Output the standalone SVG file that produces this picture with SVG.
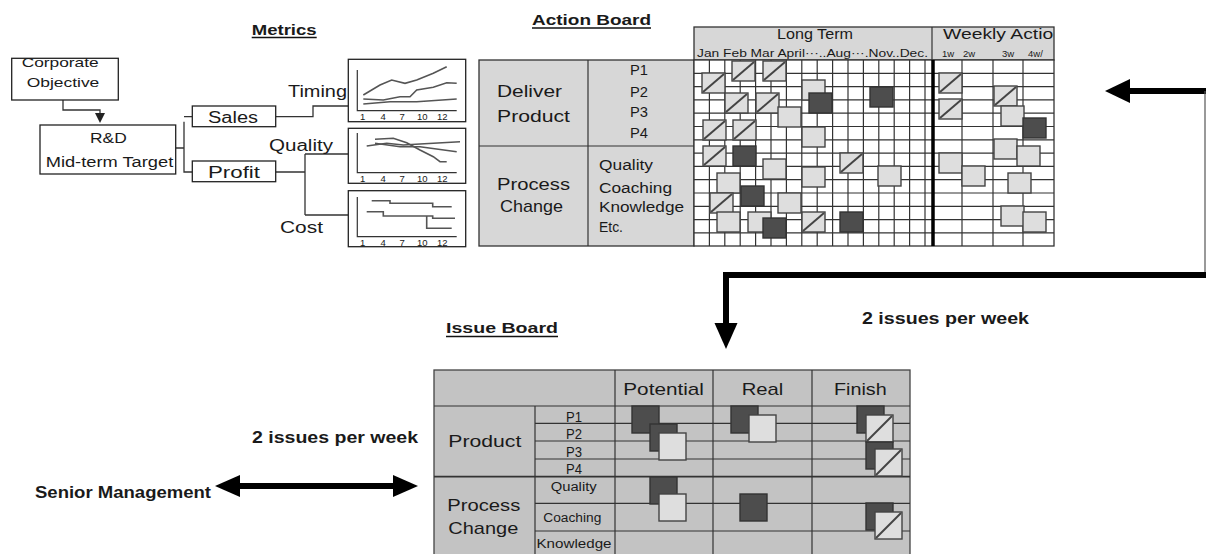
<svg xmlns="http://www.w3.org/2000/svg" xmlns:xlink="http://www.w3.org/1999/xlink" width="1206" height="554" viewBox="0 0 1206 554">
<style>
text{font-family:"Liberation Sans",Arial,sans-serif;fill:#1a1a1a;}
.t{font-weight:bold;}
.bx{fill:#fff;stroke:#222;stroke-width:1.3;}
.ln{fill:none;stroke:#333;stroke-width:1.3;}
.gl{fill:none;stroke:#555;stroke-width:1.6;}
.ax{fill:none;stroke:#333;stroke-width:1.2;}
.lt{fill:#d7d7d7;stroke:#333;stroke-width:1.3;}
.grid{stroke:#333;stroke-width:1.2;}
.lb{fill:#dedede;stroke:#444;stroke-width:1.4;}
.db{fill:#4d4d4d;stroke:#333;stroke-width:1.4;}
.dg{stroke:#444;stroke-width:2;}
.ib{fill:#c3c3c3;stroke:#444;stroke-width:1.3;}
.thick{fill:none;stroke:#000;stroke-width:6;}
.ul{stroke:#111;stroke-width:1.5;}
</style>
<defs>
<marker id="ah" markerWidth="10" markerHeight="10" refX="8" refY="5" orient="auto" markerUnits="userSpaceOnUse"><path d="M0,0 L10,5 L0,10 Z" fill="#222"/></marker>
<g id="bL"><rect width="23" height="20" class="lb"/></g>
<g id="bD"><rect width="23" height="20" class="db"/></g>
<g id="bX"><rect width="23" height="20" class="lb"/><line x1="1" y1="19" x2="22" y2="1" class="dg"/></g>
<g id="iL"><rect width="27" height="27" class="lb"/></g>
<g id="iD"><rect width="27" height="27" class="db"/></g>
<g id="iX"><rect width="27" height="27" class="lb"/><line x1="1" y1="26" x2="26" y2="1" class="dg"/></g>
<clipPath id="hdrclip"><rect x="932" y="27" width="122" height="33"/></clipPath>
</defs>

<g id="titles">
<text class="t" x="251.7" y="34.5" font-size="15" textLength="65" lengthAdjust="spacingAndGlyphs">Metrics</text>
<line class="ul" x1="251.7" y1="37.5" x2="316.7" y2="37.5"/>
<text class="t" x="532" y="25" font-size="15" textLength="119" lengthAdjust="spacingAndGlyphs">Action Board</text>
<line class="ul" x1="532" y1="28" x2="651" y2="28"/>
<text class="t" x="446" y="333" font-size="15" textLength="112" lengthAdjust="spacingAndGlyphs">Issue Board</text>
<line class="ul" x1="446" y1="336.5" x2="558" y2="336.5"/>
</g>

<g id="connectors">
<path class="ln" d="M63,100 V110 H100 V121" marker-end="url(#ah)"/>
<path class="ln" d="M176,148 H184 M184,121.7 V172.7 M184,116.7 H192.3 M184,172 H192.3"/>
<path class="ln" d="M275.7,116.7 H313 V106 H348.3"/>
<path class="ln" d="M275.7,172 H305 M305,154 V215 M305,154 H348.3 M305,215 H348.3"/>
<path class="thick" d="M1206,91 H1126"/>
<path d="M1105,91 L1130,79 L1130,103 Z" fill="#000"/>
<line x1="1205" y1="91" x2="1205" y2="275" stroke="#555" stroke-width="1.2"/>
<path class="thick" d="M1206,275 H726 V326"/>
<path d="M726,349 L714.5,323 L737.5,323 Z" fill="#000"/>
<path class="thick" d="M238,486 H396"/>
<path d="M215,486 L240,475 L240,497 Z" fill="#000"/>
<path d="M418,486 L393,475 L393,497 Z" fill="#000"/>
</g>

<g id="corporate-objective">
<rect class="bx" x="11.7" y="58.3" width="106.6" height="41.7"/>
<text x="21.7" y="67" font-size="13" textLength="77" lengthAdjust="spacingAndGlyphs">Corporate</text>
<text x="26.7" y="87" font-size="13" textLength="72.6" lengthAdjust="spacingAndGlyphs">Objective</text>
</g>

<g id="rd-target">
<rect class="bx" x="40" y="125" width="135.7" height="49"/>
<text x="90" y="143.3" font-size="14" textLength="36.7" lengthAdjust="spacingAndGlyphs">R&amp;D</text>
<text x="45.7" y="166.7" font-size="14" textLength="127.6" lengthAdjust="spacingAndGlyphs">Mid-term Target</text>
</g>

<g id="sales">
<rect class="bx" x="192.3" y="106" width="83.4" height="20.7"/>
<text x="208" y="123" font-size="16" textLength="50" lengthAdjust="spacingAndGlyphs">Sales</text>
</g>

<g id="profit">
<rect class="bx" x="192.3" y="161" width="83.4" height="20.7"/>
<text x="208" y="178.3" font-size="16" textLength="52" lengthAdjust="spacingAndGlyphs">Profit</text>
</g>

<g id="metric-labels">
<text x="288" y="96.5" font-size="16" textLength="59" lengthAdjust="spacingAndGlyphs">Timing</text>
<text x="269" y="150.5" font-size="16" textLength="64" lengthAdjust="spacingAndGlyphs">Quality</text>
<text x="280" y="233" font-size="16" textLength="43" lengthAdjust="spacingAndGlyphs">Cost</text>
</g>

<g id="graph-timing">
<rect class="bx" x="348.3" y="59.3" width="117.4" height="62.4"/>
<path class="ax" d="M357.3,70 V110.7 H456.7"/>
<path class="gl" d="M363.3,95 L380,85 L391.7,80 L405,83.3 L416.7,80 L433.3,73.3 L446.7,66.7"/>
<path class="gl" d="M363.3,99 L383.3,100 L400,96.7 L410,96.7 L416.7,90 L433.3,87.3 L446.7,82.7 L456.7,83.3"/>
<path class="gl" d="M363.3,104 L390,101.7 L416.7,101.7 L456.7,99"/>
<g font-size="9.5"><text x="360" y="120">1</text><text x="380.5" y="120">4</text><text x="399.5" y="120">7</text><text x="417" y="120">10</text><text x="437" y="120">12</text></g>
</g>

<g id="graph-quality">
<rect class="bx" x="348.3" y="128.3" width="117.4" height="55"/>
<path class="ax" d="M357.3,133 V172.7 H456.7"/>
<path class="gl" d="M366.7,146 L386.7,143.3 L403.3,145 L420,144 L460,141.7"/>
<path class="gl" d="M375,139.3 L393.3,138.3 L406.7,142.7 L420,150 L433.3,156.7 L440,161.7 L446.7,161.7"/>
<path class="gl" d="M375,143.3 L400,146.7 L420,146.7 L456.7,151.7"/>
<g font-size="9.5"><text x="360" y="182">1</text><text x="380.5" y="182">4</text><text x="399.5" y="182">7</text><text x="417" y="182">10</text><text x="437" y="182">12</text></g>
</g>

<g id="graph-cost">
<rect class="bx" x="348.3" y="190.7" width="117.4" height="56"/>
<path class="ax" d="M357.3,197 V236.7 H456.7"/>
<path class="gl" d="M371.7,200.7 H390 V203.3 H432.7 V206.7 H451.7"/>
<path class="gl" d="M366.7,211.7 H383.3 V216 H432.7 V218.3 H455"/>
<path class="gl" d="M426.7,216 V228.3 H451.7"/>
<g font-size="9.5"><text x="360" y="246">1</text><text x="380.5" y="246">4</text><text x="399.5" y="246">7</text><text x="417" y="246">10</text><text x="437" y="246">12</text></g>
</g>

<g id="action-board">
<rect class="lt" x="479" y="60" width="215" height="186"/>
<line class="grid" x1="588" y1="60" x2="588" y2="246"/>
<line class="grid" x1="479" y1="146" x2="694" y2="146"/>
<rect class="lt" x="694" y="27" width="360" height="33"/>
<line class="grid" x1="932" y1="27" x2="932" y2="60"/>
<rect x="694" y="60" width="360" height="186" fill="#fff" stroke="#333" stroke-width="1.3"/>
<g class="grid">
<line x1="709.4" y1="60" x2="709.4" y2="246"/><line x1="724.8" y1="60" x2="724.8" y2="246"/><line x1="740.2" y1="60" x2="740.2" y2="246"/><line x1="755.6" y1="60" x2="755.6" y2="246"/><line x1="771" y1="60" x2="771" y2="246"/><line x1="786.4" y1="60" x2="786.4" y2="246"/><line x1="801.8" y1="60" x2="801.8" y2="246"/><line x1="817.2" y1="60" x2="817.2" y2="246"/><line x1="832.6" y1="60" x2="832.6" y2="246"/><line x1="848" y1="60" x2="848" y2="246"/><line x1="863.4" y1="60" x2="863.4" y2="246"/><line x1="878.8" y1="60" x2="878.8" y2="246"/><line x1="894.2" y1="60" x2="894.2" y2="246"/><line x1="909.6" y1="60" x2="909.6" y2="246"/><line x1="925" y1="60" x2="925" y2="246"/>
<line x1="962" y1="60" x2="962" y2="246"/><line x1="993" y1="60" x2="993" y2="246"/><line x1="1023" y1="60" x2="1023" y2="246"/>
<line x1="694" y1="73.3" x2="1054" y2="73.3"/><line x1="694" y1="86.6" x2="1054" y2="86.6"/><line x1="694" y1="99.9" x2="1054" y2="99.9"/><line x1="694" y1="113.2" x2="1054" y2="113.2"/><line x1="694" y1="126.5" x2="1054" y2="126.5"/><line x1="694" y1="139.8" x2="1054" y2="139.8"/><line x1="694" y1="153.1" x2="1054" y2="153.1"/><line x1="694" y1="166.4" x2="1054" y2="166.4"/><line x1="694" y1="179.7" x2="1054" y2="179.7"/><line x1="694" y1="193" x2="1054" y2="193"/><line x1="694" y1="206.3" x2="1054" y2="206.3"/><line x1="694" y1="219.6" x2="1054" y2="219.6"/><line x1="694" y1="232.9" x2="1054" y2="232.9"/>
</g>
<line x1="933" y1="60" x2="933" y2="246" stroke="#000" stroke-width="3.5"/>
<g id="action-items">
<use href="#bX" x="702" y="73"/><use href="#bX" x="732" y="61"/><use href="#bX" x="763" y="61"/>
<use href="#bX" x="725" y="93"/><use href="#bX" x="756" y="93"/><use href="#bL" x="778" y="107"/>
<use href="#bL" x="802" y="80"/><use href="#bD" x="809" y="93"/><use href="#bD" x="870" y="87"/>
<use href="#bX" x="703" y="120"/><use href="#bX" x="733" y="120"/><use href="#bL" x="802" y="127"/>
<use href="#bX" x="703" y="146"/><use href="#bD" x="733" y="146"/><use href="#bL" x="763" y="159"/>
<use href="#bL" x="802" y="167"/><use href="#bL" x="717" y="173"/><use href="#bD" x="741" y="186"/>
<use href="#bX" x="710" y="193"/><use href="#bL" x="778" y="193"/><use href="#bX" x="840" y="153"/>
<use href="#bL" x="878" y="166"/><use href="#bL" x="717" y="212"/><use href="#bL" x="748" y="212"/>
<use href="#bD" x="763" y="218"/><use href="#bX" x="802" y="212"/><use href="#bD" x="840" y="212"/>
<use href="#bX" x="939" y="73"/><use href="#bX" x="939" y="99"/><use href="#bX" x="994" y="86"/>
<use href="#bL" x="1001" y="106"/><use href="#bD" x="1023" y="118"/><use href="#bL" x="994" y="139"/>
<use href="#bL" x="1017" y="146"/><use href="#bL" x="939" y="153"/><use href="#bL" x="962" y="166"/>
<use href="#bL" x="1008" y="173"/><use href="#bL" x="1001" y="206"/><use href="#bL" x="1023" y="212"/>
</g>
<text x="497" y="97" font-size="17" textLength="65" lengthAdjust="spacingAndGlyphs">Deliver</text>
<text x="497" y="122" font-size="17" textLength="73" lengthAdjust="spacingAndGlyphs">Product</text>
<text x="630" y="75" font-size="15" textLength="18" lengthAdjust="spacingAndGlyphs">P1</text>
<text x="630" y="96.5" font-size="15" textLength="18" lengthAdjust="spacingAndGlyphs">P2</text>
<text x="630" y="117" font-size="15" textLength="18" lengthAdjust="spacingAndGlyphs">P3</text>
<text x="630" y="138" font-size="15" textLength="18" lengthAdjust="spacingAndGlyphs">P4</text>
<text x="497" y="190" font-size="17" textLength="73" lengthAdjust="spacingAndGlyphs">Process</text>
<text x="500" y="212" font-size="17" textLength="63" lengthAdjust="spacingAndGlyphs">Change</text>
<text x="599" y="170" font-size="14" textLength="54" lengthAdjust="spacingAndGlyphs">Quality</text>
<text x="599" y="192.5" font-size="14" textLength="73" lengthAdjust="spacingAndGlyphs">Coaching</text>
<text x="599" y="212" font-size="14" textLength="85" lengthAdjust="spacingAndGlyphs">Knowledge</text>
<text x="599" y="231.5" font-size="14" textLength="24" lengthAdjust="spacingAndGlyphs">Etc.</text>
<text x="777" y="39" font-size="15" textLength="76" lengthAdjust="spacingAndGlyphs">Long Term</text>
<text x="697" y="57" font-size="10.5" textLength="231" lengthAdjust="spacingAndGlyphs">Jan Feb Mar April···..Aug···.Nov..Dec.</text>
<text x="943" y="38.5" font-size="15" textLength="121" lengthAdjust="spacingAndGlyphs" clip-path="url(#hdrclip)">Weekly Action</text>
<g font-size="9.5"><text x="942" y="57">1w</text><text x="963" y="57">2w</text><text x="1002" y="57">3w</text><text x="1028" y="57">4w/</text></g>
</g>

<g id="issue-board">
<rect class="ib" x="434" y="370" width="476" height="200"/>
<g class="grid">
<line x1="615" y1="370" x2="615" y2="554"/><line x1="713" y1="370" x2="713" y2="554"/><line x1="812" y1="370" x2="812" y2="554"/>
<line x1="535" y1="406" x2="535" y2="554"/>
<line x1="434" y1="406" x2="910" y2="406"/>
<line x1="535" y1="423.3" x2="910" y2="423.3"/><line x1="535" y1="441" x2="910" y2="441"/><line x1="535" y1="459" x2="910" y2="459"/>
<line x1="434" y1="476.7" x2="910" y2="476.7" stroke-width="1.8"/>
<line x1="535" y1="503.3" x2="910" y2="503.3"/><line x1="535" y1="531" x2="910" y2="531"/>
</g>
<g id="issue-items">
<use href="#iD" x="632" y="406"/><use href="#iD" x="650" y="424"/><use href="#iL" x="659" y="433"/>
<use href="#iD" x="731" y="406"/><use href="#iL" x="749" y="415"/>
<use href="#iD" x="857" y="406"/><use href="#iX" x="866" y="415"/><use href="#iD" x="866" y="442"/><use href="#iX" x="875" y="449"/>
<use href="#iD" x="650" y="477"/><use href="#iL" x="659" y="494"/><use href="#iD" x="740" y="494"/>
<use href="#iD" x="866" y="503"/><use href="#iX" x="875" y="512"/>
</g>
<text x="623.3" y="395" font-size="17" textLength="80.7" lengthAdjust="spacingAndGlyphs">Potential</text>
<text x="741.7" y="395" font-size="17" textLength="41.6" lengthAdjust="spacingAndGlyphs">Real</text>
<text x="834" y="395" font-size="17" textLength="52.7" lengthAdjust="spacingAndGlyphs">Finish</text>
<text x="448.3" y="447" font-size="17" textLength="73" lengthAdjust="spacingAndGlyphs">Product</text>
<text x="447.3" y="510.5" font-size="17" textLength="73" lengthAdjust="spacingAndGlyphs">Process</text>
<text x="448.3" y="534" font-size="17" textLength="70" lengthAdjust="spacingAndGlyphs">Change</text>
<text x="566" y="421.5" font-size="14" textLength="16" lengthAdjust="spacingAndGlyphs">P1</text>
<text x="566" y="439.3" font-size="14" textLength="16" lengthAdjust="spacingAndGlyphs">P2</text>
<text x="566" y="456.7" font-size="14" textLength="16" lengthAdjust="spacingAndGlyphs">P3</text>
<text x="566" y="474.3" font-size="14" textLength="16" lengthAdjust="spacingAndGlyphs">P4</text>
<text x="550.7" y="490.7" font-size="12" textLength="46" lengthAdjust="spacingAndGlyphs">Quality</text>
<text x="543.3" y="522" font-size="12" textLength="58" lengthAdjust="spacingAndGlyphs">Coaching</text>
<text x="536.5" y="547.5" font-size="12" textLength="75" lengthAdjust="spacingAndGlyphs">Knowledge</text>
</g>

<g id="senior-management">
<text class="t" x="35" y="498" font-size="16" textLength="176" lengthAdjust="spacingAndGlyphs">Senior Management</text>
</g>
<g id="rate-labels">
<text class="t" x="252" y="443" font-size="16" textLength="166" lengthAdjust="spacingAndGlyphs">2 issues per week</text>
<text class="t" x="862" y="324" font-size="16" textLength="167" lengthAdjust="spacingAndGlyphs">2 issues per week</text>
</g>
</svg>
